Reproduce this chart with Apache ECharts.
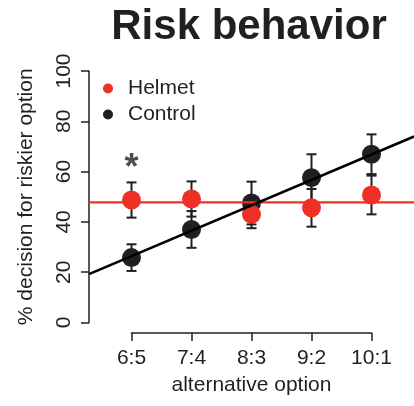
<!DOCTYPE html>
<html><head><meta charset="utf-8">
<script src="https://cdn.jsdelivr.net/npm/echarts@6/dist/echarts.min.js"></script>
<style>html,body{margin:0;padding:0;background:#fff}#c{width:414px;height:406px}</style>
</head><body><div id="c"></div>
<script>
const categories = ['6:5', '7:4', '8:3', '9:2', '10:1'];
const helmetMean = [48.7, 49.1, 43.0, 45.6, 50.7];
const helmetErr = [7.0, 7.0, 5.5, 7.5, 7.7];
const controlMean = [25.8, 37.0, 47.5, 57.6, 66.9];
const controlErr = [5.3, 7.3, 8.5, 9.3, 7.9];
const helmetFit = [47.8, 0];     // intercept, slope (per category step)
const controlFit = [26.4, 10.1]; // intercept, slope
const significance = ['*', '', '', '', ''];

const RED = '#ee3124', BLACK = '#231f20';
const FONT = "'Liberation Sans', Arial, Helvetica, sans-serif";
const xMin = (89 - 131.5) / 60, xMax = (414 - 131.5) / 60;

function fitLine(fit) {
  return [[xMin, fit[0] + fit[1] * xMin], [xMax, fit[0] + fit[1] * xMax]];
}
function errSeries(name, mean, err) {
  return {
    name: name + ' err', type: 'custom', xAxisIndex: 0, yAxisIndex: 0, z: 2, silent: true,
    data: mean.map((m, i) => [i, m - err[i], m + err[i]]),
    encode: { x: 0, y: [1, 2] },
    renderItem(params, api) {
      const x = api.value(0);
      const lo = api.coord([x, api.value(1)]);
      const hi = api.coord([x, api.value(2)]);
      const hw = 5;
      const style = { stroke: BLACK, lineWidth: 2 };
      return { type: 'group', children: [
        { type: 'line', shape: { x1: lo[0], y1: lo[1], x2: hi[0], y2: hi[1] }, style },
        { type: 'line', shape: { x1: lo[0] - hw, y1: lo[1], x2: lo[0] + hw, y2: lo[1] }, style },
        { type: 'line', shape: { x1: hi[0] - hw, y1: hi[1], x2: hi[0] + hw, y2: hi[1] }, style }
      ] };
    }
  };
}

const chart = echarts.init(document.getElementById('c'));
chart.setOption({
  animation: false,
  backgroundColor: '#fff',
  textStyle: { fontFamily: FONT, color: BLACK },
  title: {
    text: 'Risk behavior', left: 244, top: 1, textAlign: 'center',
    textStyle: { fontFamily: FONT, fontSize: 42, fontWeight: 'bold', color: BLACK }
  },
  legend: {
    orient: 'vertical', left: 98, top: 73, itemGap: 5,
    icon: 'circle', itemWidth: 10, itemHeight: 10,
    data: ['Helmet', 'Control'],
    textStyle: { fontFamily: FONT, fontSize: 21, color: BLACK, padding: [0, 0, 0, 10] }
  },
  grid: [
    { left: 89, right: 0, top: 71, bottom: 83.5 },
    { left: 131.5, width: 240, top: 71, bottom: 73 }
  ],
  xAxis: [
    { gridIndex: 0, type: 'value', min: xMin, max: xMax, show: false },
    {
      gridIndex: 1, type: 'value', min: 0, max: 4, interval: 1,
      axisLine: { show: true, onZero: false, lineStyle: { color: BLACK, width: 1.5 } },
      axisTick: { show: true, inside: false, length: 8, lineStyle: { color: BLACK, width: 1.5 } },
      splitLine: { show: false },
      axisLabel: { formatter: v => categories[v], fontSize: 21, color: BLACK, fontFamily: FONT, margin: 15 },
      name: 'alternative option', nameLocation: 'middle', nameGap: 42,
      nameTextStyle: { fontSize: 21, color: BLACK, fontFamily: FONT }
    }
  ],
  yAxis: [
    {
      gridIndex: 0, type: 'value', min: 0, max: 100, interval: 20,
      axisLine: { show: true, onZero: false, lineStyle: { color: BLACK, width: 1.5 } },
      axisTick: { show: true, length: 8, lineStyle: { color: BLACK, width: 1.5 } },
      splitLine: { show: false },
      axisLabel: { rotate: 90, fontSize: 21, color: BLACK, fontFamily: FONT, margin: 14 },
      name: '% decision for riskier option', nameLocation: 'middle', nameGap: 52,
      nameTextStyle: { fontSize: 21, color: BLACK, fontFamily: FONT }
    },
    { gridIndex: 1, type: 'value', min: 0, max: 100, show: false }
  ],
  series: [
    errSeries('Control', controlMean, controlErr),
    errSeries('Helmet', helmetMean, helmetErr),
    {
      name: 'Control', type: 'scatter', xAxisIndex: 0, yAxisIndex: 0, z: 3,
      symbol: 'circle', symbolSize: 19, itemStyle: { color: BLACK, opacity: 1 },
      data: controlMean.map((v, i) => [i, v])
    },
    {
      name: 'Helmet fit', type: 'line', xAxisIndex: 0, yAxisIndex: 0, z: 4,
      symbol: 'none', lineStyle: { color: RED, width: 2.2 }, data: fitLine(helmetFit)
    },
    {
      name: 'Helmet', type: 'scatter', xAxisIndex: 0, yAxisIndex: 0, z: 5,
      symbol: 'circle', symbolSize: 19, itemStyle: { color: RED, opacity: 1 },
      data: helmetMean.map((v, i) => [i, v])
    },
    {
      name: 'Control fit', type: 'line', xAxisIndex: 0, yAxisIndex: 0, z: 6,
      symbol: 'none', lineStyle: { color: '#000', width: 2.6 }, data: fitLine(controlFit)
    },
    {
      name: 'sig', type: 'scatter', xAxisIndex: 0, yAxisIndex: 0, z: 7, silent: true,
      symbolSize: 1, itemStyle: { color: 'transparent' },
      data: significance.map((s, i) => ({ value: [i, helmetMean[i] + helmetErr[i]], label: { formatter: s } })),
      label: { show: true, position: 'top', distance: -5, fontSize: 36, fontWeight: 'bold', color: BLACK, fontFamily: FONT }
    }
  ]
});
</script></body></html>
